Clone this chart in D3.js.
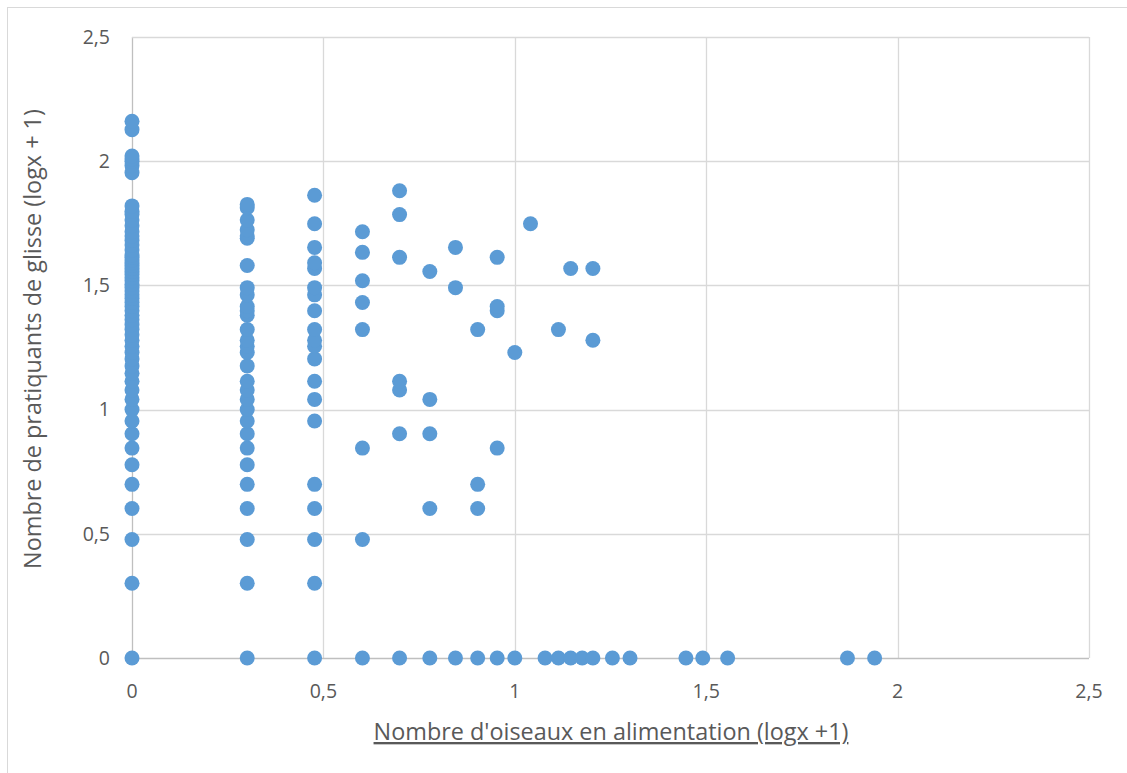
<!DOCTYPE html>
<html>
<head>
<meta charset="utf-8">
<script src="https://cdn.jsdelivr.net/npm/d3@7"></script>
<style>
  body { margin: 0; background: #fff; }
  svg { font-family: "Open Sans", "Noto Sans", sans-serif; }
</style>
</head>
<body>
<div id="chart"></div>
<script>
// values (log10 of counts)
var col0 = [0, 0.301, 0.477, 0.602, 0.699, 0.778, 0.845, 0.903, 0.954, 1.0, 1.041, 1.079, 1.114,
  1.146, 1.176, 1.204, 1.230, 1.255, 1.279, 1.301, 1.322, 1.342, 1.362, 1.380, 1.398, 1.415, 1.431,
  1.447, 1.462, 1.477, 1.491, 1.505, 1.519, 1.531, 1.544, 1.556, 1.568, 1.580, 1.591, 1.602, 1.613,
  1.623, 1.643, 1.663, 1.681, 1.699, 1.716, 1.740, 1.763, 1.785, 1.799, 1.820,
  1.954, 1.982, 2.0, 2.009, 2.021, 2.127, 2.161];
var col301 = [0, 0.301, 0.477, 0.602, 0.699, 0.778, 0.845, 0.903, 0.954, 1.0, 1.041, 1.079, 1.114,
  1.176, 1.230, 1.255, 1.279, 1.322, 1.380, 1.398, 1.415, 1.462, 1.491, 1.580, 1.690, 1.699, 1.724,
  1.763, 1.813, 1.826];
var col477 = [0, 0.301, 0.477, 0.602, 0.699, 0.954, 1.041, 1.114, 1.204, 1.255, 1.279, 1.322,
  1.398, 1.462, 1.491, 1.568, 1.591, 1.653, 1.748, 1.863];
// other points (x, y)
var others = [
  [0.602, 0.477], [0.602, 0.845], [0.602, 1.322], [0.602, 1.431], [0.602, 1.519], [0.602, 1.633], [0.602, 1.716],
  [0.699, 0.903], [0.699, 1.079], [0.699, 1.114], [0.699, 1.613], [0.699, 1.785], [0.699, 1.881],
  [0.778, 0.602], [0.778, 0.903], [0.778, 1.041], [0.778, 1.556],
  [0.845, 1.491], [0.845, 1.653],
  [0.903, 0.602], [0.903, 0.699], [0.903, 1.322],
  [0.954, 0.845], [0.954, 1.398], [0.954, 1.415], [0.954, 1.613],
  [1.0, 1.230], [1.041, 1.748],
  [1.114, 1.322], [1.146, 1.568], [1.204, 1.568], [1.204, 1.279]
];
// points on the y = 0 line
var zeroRow = [0.602, 0.699, 0.778, 0.845, 0.903, 0.954, 1.0, 1.079, 1.114, 1.146, 1.176, 1.204,
  1.255, 1.301, 1.447, 1.491, 1.556, 1.869, 1.940];
var ticks = [0, 0.5, 1, 1.5, 2, 2.5];
var xTitle = "Nombre d'oiseaux en alimentation (logx +1)";
var yTitle = "Nombre de pratiquants de glisse (logx + 1)";

var data = [];
col0.forEach(function(v){ data.push([0, v]); });
col301.forEach(function(v){ data.push([0.301, v]); });
col477.forEach(function(v){ data.push([0.477, v]); });
others.forEach(function(p){ data.push(p); });
zeroRow.forEach(function(v){ data.push([v, 0]); });

var W = 1127, H = 773;
var svg = d3.select("#chart").append("svg").attr("width", W).attr("height", H);

// chart frame
svg.append("rect").attr("x", 7.5).attr("y", 7.5).attr("width", W + 10).attr("height", H + 10)
  .attr("fill", "#fff").attr("stroke", "#d9d9d9");

var x = d3.scaleLinear().domain([0, 2.5]).range([132, 1089]);
var y = d3.scaleLinear().domain([0, 2.5]).range([658, 37]);
var fmt = function(d){ return String(d).replace(".", ","); };

// gridlines
svg.append("g").selectAll("line").data(ticks).enter().append("line")
  .attr("x1", function(d){ return Math.round(x(d)) + 0.5; })
  .attr("x2", function(d){ return Math.round(x(d)) + 0.5; })
  .attr("y1", y(2.5)).attr("y2", y(0))
  .attr("stroke", function(d){ return d === 0 ? "#bfbfbf" : "#d9d9d9"; }).attr("stroke-width", 1.3);
svg.append("g").selectAll("line").data(ticks).enter().append("line")
  .attr("y1", function(d){ return Math.round(y(d)) + 0.5; })
  .attr("y2", function(d){ return Math.round(y(d)) + 0.5; })
  .attr("x1", x(0)).attr("x2", x(2.5))
  .attr("stroke", function(d){ return d === 0 ? "#bfbfbf" : "#d9d9d9"; }).attr("stroke-width", 1.3);

// tick labels
svg.append("g").selectAll("text").data(ticks).enter().append("text")
  .attr("x", 110).attr("y", function(d){ return y(d); }).attr("dy", "0.35em")
  .attr("text-anchor", "end").attr("fill", "#595959").attr("font-size", 19.5)
  .text(fmt);
svg.append("g").selectAll("text").data(ticks).enter().append("text")
  .attr("x", function(d){ return x(d); }).attr("y", 698)
  .attr("text-anchor", "middle").attr("fill", "#595959").attr("font-size", 19.5)
  .text(fmt);

// axis titles
svg.append("text").attr("x", 611).attr("y", 740).attr("text-anchor", "middle")
  .attr("fill", "#595959").attr("font-size", 23.4).attr("text-decoration", "underline")
  .text(xTitle);
svg.append("text").attr("transform", "translate(41,339) rotate(-90)").attr("text-anchor", "middle")
  .attr("fill", "#595959").attr("font-size", 23.4)
  .text(yTitle);

// points
svg.append("g").selectAll("circle").data(data).enter().append("circle")
  .attr("cx", function(d){ return x(d[0]); })
  .attr("cy", function(d){ return y(d[1]); })
  .attr("r", 7.5)
  .attr("fill", "#5b9bd5");
</script>
</body>
</html>
